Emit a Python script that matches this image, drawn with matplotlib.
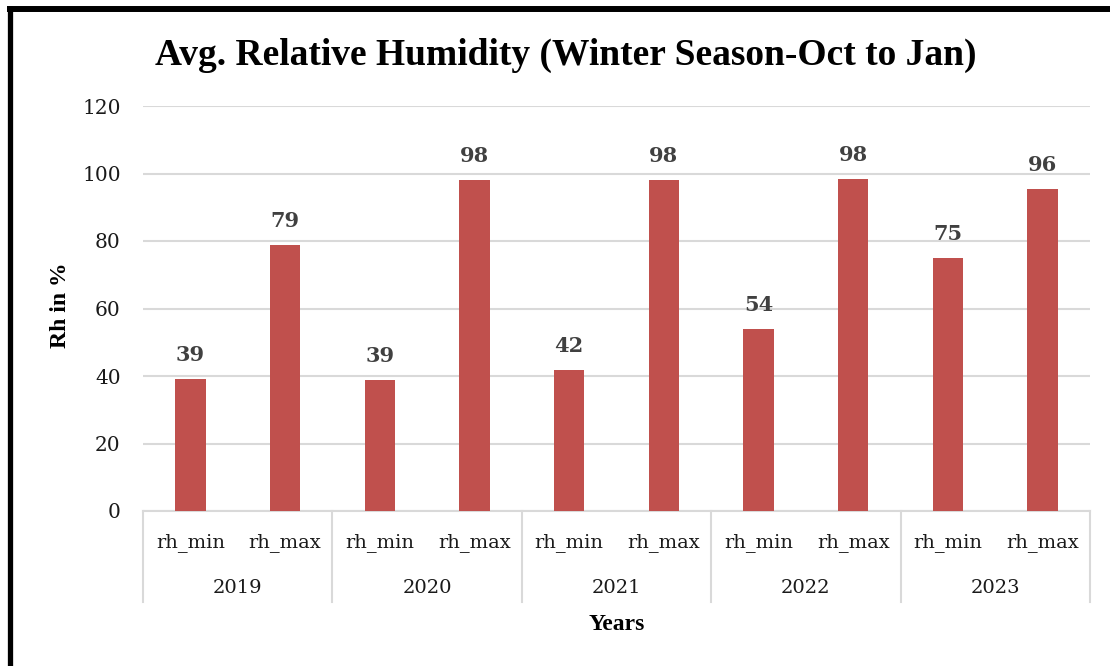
import matplotlib
matplotlib.use("Agg")
import matplotlib.pyplot as plt
from matplotlib.lines import Line2D
import matplotlib.transforms as mtransforms

years = ["2019", "2020", "2021", "2022", "2023"]
series = ["rh_min", "rh_max"]
values = [39.1, 78.8, 38.8, 98.1, 41.8, 98.1, 53.9, 98.4, 75.0, 95.5]
yticks = [0, 20, 40, 60, 80, 100, 120]

W, H = 1110, 666
fig = plt.figure(figsize=(W / 100, H / 100), dpi=100)
fig.patch.set_facecolor("white")

ax = fig.add_axes([143 / W, 1 - 511 / H, (1090 - 143) / W, (511 - 106) / H])

labels = [s for y in years for s in series]
xs = list(range(len(labels)))
ax.bar(xs, values, width=0.32, color="#C0504D", zorder=3)

ax.set_xlim(-0.5, len(labels) - 0.5)
ax.set_ylim(0, 120)
ax.set_yticks(yticks)
ax.set_yticklabels([str(t) for t in yticks], fontfamily="DejaVu Serif", fontsize=14.5, color="#1a1a1a")
ax.tick_params(axis="y", length=0, pad=16)
ax.set_xticks([])
ax.grid(axis="y", color="#D9D9D9", linewidth=1.5, zorder=0)
for s in ["top", "right", "left"]:
    ax.spines[s].set_visible(False)
ax.spines["bottom"].set_color("#D9D9D9")
ax.spines["bottom"].set_linewidth(1.5)

# data labels
for x, v in zip(xs, values):
    ax.annotate(f"{round(v):d}", (x, v), xytext=(0, 10), textcoords="offset points",
                ha="center", va="bottom", fontfamily="DejaVu Serif", fontweight="bold",
                fontsize=15, color="#404040")

# category axis
trans = mtransforms.blended_transform_factory(ax.transData, ax.transAxes)
axh = 511 - 106
def yfrac(py):
    return (511 - py) / axh

for x, lab in zip(xs, labels):
    ax.text(x, yfrac(543), lab, transform=trans, ha="center", va="center",
            fontfamily="DejaVu Serif", fontsize=14, color="#1a1a1a")
for i, yr in enumerate(years):
    ax.text(2 * i + 0.5, yfrac(588), yr, transform=trans, ha="center", va="center",
            fontfamily="DejaVu Serif", fontsize=14, color="#1a1a1a")
for b in [-0.5, 1.5, 3.5, 5.5, 7.5, 9.5]:
    ax.add_line(Line2D([b, b], [0, yfrac(602)], transform=trans, color="#D9D9D9",
                       linewidth=1.5, clip_on=False))

# titles
fig.text(566 / W, 1 - 55 / H, "Avg. Relative Humidity (Winter Season-Oct to Jan)",
         ha="center", va="center", fontfamily="Liberation Serif", fontweight="bold", fontsize=27)
fig.text(61 / W, 1 - 305 / H, "Rh in %", ha="center", va="center", rotation=90,
         fontfamily="Liberation Serif", fontweight="bold", fontsize=17)
fig.text(617 / W, 1 - 624 / H, "Years", ha="center", va="center",
         fontfamily="Liberation Serif", fontweight="bold", fontsize=17)

# frame (left and top)
fig.add_artist(Line2D([9.5 / W, 9.5 / W], [0, 1 - 6 / H], transform=fig.transFigure,
                      color="black", linewidth=3.8, solid_capstyle="butt"))
fig.add_artist(Line2D([7 / W, 1], [1 - 9 / H, 1 - 9 / H], transform=fig.transFigure,
                      color="black", linewidth=4.3, solid_capstyle="butt"))

fig.savefig("out.png", dpi=100)
